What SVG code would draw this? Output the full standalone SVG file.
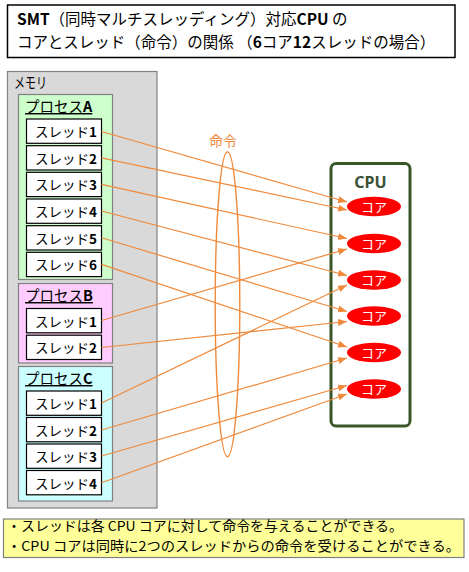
<svg xmlns="http://www.w3.org/2000/svg" width="469" height="572" viewBox="0 0 469 572">
<defs>
<style>
.jp{font-family:"Noto Sans CJK JP","Noto Sans",sans-serif;}
.title{font-size:15.5px;fill:#000;}
.thr{fill:#fff;stroke:#000;stroke-width:1.2;}
.thrt{font-size:13.5px;fill:#000;}
.proc{stroke:#808080;stroke-width:1.2;}
.plabel{font-size:14.5px;fill:#000;text-decoration:underline;}
.core{fill:#ff0000;}
.coret{font-size:13px;fill:#fff;text-anchor:middle;}
.conn{stroke:#ef8a3c;stroke-width:1.2;fill:none;marker-end:url(#arr);}
.note{font-size:13.5px;fill:#000;}
.b{font-weight:bold;}
</style>
<marker id="arr" markerUnits="userSpaceOnUse" markerWidth="10" markerHeight="8" refX="9" refY="3.5" orient="auto">
<path d="M0,0 L9,3.5 L0,7 z" fill="#ef8a3c"/>
</marker>
</defs>
<rect width="469" height="572" fill="#fff"/>

<g id="title">
<rect x="7.5" y="5" width="447.5" height="52.5" fill="#fff" stroke="#000" stroke-width="1.5"/>
<text class="jp title" x="17" y="25"><tspan class="b">SMT</tspan>（同時マルチスレッディング）対応<tspan class="b">CPU</tspan> の</text>
<text class="jp title" x="17" y="47.5">コアとスレッド（命令）の関係 （<tspan class="b">6</tspan>コア<tspan class="b">12</tspan>スレッドの場合）</text>
</g>

<g id="memory">
<rect x="7.5" y="71.5" width="149.5" height="436.5" fill="#d9d9d9" stroke="#808080" stroke-width="1.2"/>
<text class="jp" x="14" y="88" font-size="15" textLength="33" lengthAdjust="spacingAndGlyphs">メモリ</text>
</g>

<g id="processA">
<rect class="proc" x="18.5" y="94.5" width="94" height="185" fill="#ccffcc"/>
<text class="jp plabel" x="25" y="112">プロセス<tspan class="b">A</tspan></text>
</g>
<g id="A1"><rect class="thr" x="26.5" y="119" width="75" height="24.3"/><text class="jp thrt" x="35" y="137">スレッド<tspan class="b">1</tspan></text></g>
<g id="A2"><rect class="thr" x="26.5" y="145.7" width="75" height="24.3"/><text class="jp thrt" x="35" y="163.7">スレッド<tspan class="b">2</tspan></text></g>
<g id="A3"><rect class="thr" x="26.5" y="172.3" width="75" height="24.3"/><text class="jp thrt" x="35" y="190.3">スレッド<tspan class="b">3</tspan></text></g>
<g id="A4"><rect class="thr" x="26.5" y="199" width="75" height="24.3"/><text class="jp thrt" x="35" y="217">スレッド<tspan class="b">4</tspan></text></g>
<g id="A5"><rect class="thr" x="26.5" y="225.7" width="75" height="24.3"/><text class="jp thrt" x="35" y="243.7">スレッド<tspan class="b">5</tspan></text></g>
<g id="A6"><rect class="thr" x="26.5" y="252.3" width="75" height="24.3"/><text class="jp thrt" x="35" y="270.3">スレッド<tspan class="b">6</tspan></text></g>

<g id="processB">
<rect class="proc" x="18.5" y="283.5" width="94" height="79.5" fill="#ffccff"/>
<text class="jp plabel" x="25" y="301">プロセス<tspan class="b">B</tspan></text>
</g>
<g id="B1"><rect class="thr" x="26.5" y="308.5" width="75" height="24.3"/><text class="jp thrt" x="35" y="326.5">スレッド<tspan class="b">1</tspan></text></g>
<g id="B2"><rect class="thr" x="26.5" y="335.2" width="75" height="24.3"/><text class="jp thrt" x="35" y="353.2">スレッド<tspan class="b">2</tspan></text></g>

<g id="processC">
<rect class="proc" x="18.5" y="366.5" width="94" height="134.5" fill="#ccffff"/>
<text class="jp plabel" x="25" y="384">プロセス<tspan class="b">C</tspan></text>
</g>
<g id="C1"><rect class="thr" x="26.5" y="391" width="75" height="24.3"/><text class="jp thrt" x="35" y="409">スレッド<tspan class="b">1</tspan></text></g>
<g id="C2"><rect class="thr" x="26.5" y="417.5" width="75" height="24.3"/><text class="jp thrt" x="35" y="435.5">スレッド<tspan class="b">2</tspan></text></g>
<g id="C3"><rect class="thr" x="26.5" y="444" width="75" height="24.3"/><text class="jp thrt" x="35" y="462">スレッド<tspan class="b">3</tspan></text></g>
<g id="C4"><rect class="thr" x="26.5" y="470.5" width="75" height="24.3"/><text class="jp thrt" x="35" y="488.5">スレッド<tspan class="b">4</tspan></text></g>

<g id="cpu">
<rect x="331" y="163.5" width="79" height="262.5" rx="5" fill="#fff" stroke="#3a5628" stroke-width="3"/>
<text x="370.5" y="188" font-family="'Noto Sans','Liberation Sans',sans-serif" font-weight="bold" font-size="16" fill="#3a5236" text-anchor="middle">CPU</text>
</g>
<g id="core1"><ellipse class="core" cx="374" cy="206.5" rx="27" ry="9.8"/><text class="jp coret" x="374" y="211.5">コア</text></g>
<g id="core2"><ellipse class="core" cx="374" cy="243.5" rx="27" ry="9.8"/><text class="jp coret" x="374" y="248.5">コア</text></g>
<g id="core3"><ellipse class="core" cx="374" cy="280" rx="27" ry="9.8"/><text class="jp coret" x="374" y="285">コア</text></g>
<g id="core4"><ellipse class="core" cx="374" cy="316" rx="27" ry="9.8"/><text class="jp coret" x="374" y="321">コア</text></g>
<g id="core5"><ellipse class="core" cx="374" cy="352.5" rx="27" ry="9.8"/><text class="jp coret" x="374" y="357.5">コア</text></g>
<g id="core6"><ellipse class="core" cx="374" cy="389" rx="27" ry="9.8"/><text class="jp coret" x="374" y="394">コア</text></g>

<g id="instruction">
<ellipse cx="227.5" cy="304.2" rx="12.3" ry="152.5" fill="none" stroke="#ef8a3c" stroke-width="1.4"/>
<text class="jp" x="223" y="146" font-size="14" fill="#ef8a3c" text-anchor="middle">命令</text>
</g>

<g id="connectors">
<line class="conn" x1="101.5" y1="131.5" x2="347" y2="202"/>
<line class="conn" x1="101.5" y1="157.8" x2="347" y2="210"/>
<line class="conn" x1="101.5" y1="184.4" x2="347" y2="238.5"/>
<line class="conn" x1="101.5" y1="211" x2="347" y2="275.5"/>
<line class="conn" x1="101.5" y1="237.8" x2="347" y2="311.5"/>
<line class="conn" x1="101.5" y1="264.4" x2="347" y2="347"/>
<line class="conn" x1="101.5" y1="320.5" x2="347" y2="249"/>
<line class="conn" x1="101.5" y1="347.5" x2="347" y2="321.5"/>
<line class="conn" x1="101.5" y1="403" x2="347" y2="285"/>
<line class="conn" x1="101.5" y1="430" x2="347" y2="358"/>
<line class="conn" x1="101.5" y1="456" x2="347" y2="385.5"/>
<line class="conn" x1="101.5" y1="482.7" x2="347" y2="394"/>
</g>

<g id="note">
<rect x="3.5" y="519" width="460.5" height="38.5" fill="#ffff99" stroke="#808080" stroke-width="1.2"/>
<text class="jp note" x="7" y="531" textLength="396" lengthAdjust="spacingAndGlyphs">・スレッドは各 CPU コアに対して命令を与えることができる。</text>
<text class="jp note" x="7" y="551" textLength="453" lengthAdjust="spacingAndGlyphs">・CPU コアは同時に2つのスレッドからの命令を受けることができる。</text>
</g>
</svg>
